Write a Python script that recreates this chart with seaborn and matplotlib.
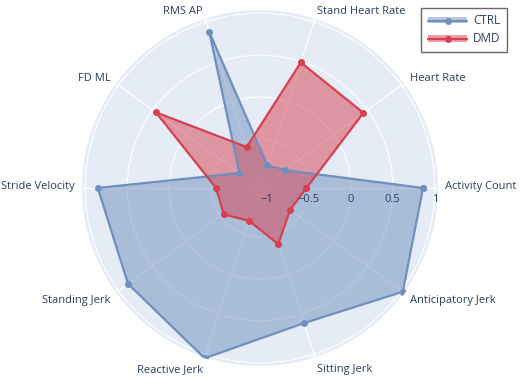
import numpy as np
import pandas as pd
import seaborn as sns
import matplotlib.pyplot as plt
from matplotlib.lines import Line2D
from matplotlib.patches import Patch
from matplotlib.legend_handler import HandlerTuple

categorias = ['Activity Count', 'Heart Rate', 'Stand Heart Rate', 'RMS AP', 'FD ML',
              'Stride Velocity', 'Standing Jerk', 'Reactive Jerk', 'Sitting Jerk',
              'Anticipatory Jerk']
ctrl = [0.86, -0.72, -0.80, 0.87, -0.78, 0.85, 0.86, 1.05, 0.61, 1.02]
dmd = [-0.53, 0.44, 0.49, -0.57, 0.45, -0.56, -0.55, -0.67, -0.38, -0.64]
radial_ticks = [-1, -0.5, 0, 0.5, 1]
grupos = ['CTRL', 'DMD']
colores = {'CTRL': '#6f90be', 'DMD': '#d6404f'}

sns.set_style('white')
plt.rcParams['font.family'] = ['Open Sans', 'DejaVu Sans']
texto = '#2a3f5f'
fs = 8.0

n = len(categorias)
theta = np.arange(n) * 2 * np.pi / n

# DataFrame largo, cerrando el poligono con el primer punto
filas = []
for g, vals in zip(grupos, [ctrl, dmd]):
    for t, v in zip(list(theta) + [2 * np.pi], vals + [vals[0]]):
        filas.append({'grupo': g, 'theta': t, 'valor': v})
df = pd.DataFrame(filas)

fig = plt.figure(figsize=(5.2, 3.78), dpi=100)
ax = fig.add_axes([81 / 520, 11 / 378, 358 / 520, 358 / 378], projection='polar')
ax.set_facecolor('#E5ECF6')
ax.set_ylim(-1.083, 1.05)

for g in grupos:
    d = df[df['grupo'] == g]
    ax.fill(d['theta'], d['valor'], color=colores[g], alpha=0.5, lw=0, zorder=2)
sns.lineplot(data=df, x='theta', y='valor', hue='grupo', palette=colores, sort=False,
             estimator=None, marker='o', markersize=5, markeredgewidth=0, linewidth=1.6,
             legend=False, ax=ax, zorder=3)

ax.set_xticks(theta)
ax.set_xticklabels([])
ax.set_yticks(radial_ticks)
ax.set_yticklabels([])
ax.set_xlabel('')
ax.set_ylabel('')
ax.grid(color='white', linewidth=0.8)
ax.spines['polar'].set_color('white')
ax.spines['polar'].set_linewidth(1.5)
ax.tick_params(length=0)

# Etiquetas angulares al estilo plotly
for t, lab in zip(theta, categorias):
    c, s = np.cos(t), np.sin(t)
    ha = 'center' if abs(c) < 0.01 else ('left' if c > 0 else 'right')
    dy = 6 * s + (6 * s if s < 0 else 1)
    ax.annotate(lab, xy=(t, 1.05), xytext=(6 * c * 0.72, dy * 0.72), textcoords='offset points',
                ha=ha, va='center', fontsize=fs, color=texto, annotation_clip=False)

# Etiquetas radiales debajo del eje
for r in radial_ticks:
    ax.annotate(f'{r:g}'.replace('-', '\u2212'), xy=(0, r), xytext=(0, -8), textcoords='offset points',
                ha='center', va='center', fontsize=fs, color=texto, annotation_clip=False, zorder=5)

handles = [(Patch(facecolor=colores[g], alpha=0.5, lw=0),
            Line2D([], [], color=colores[g], lw=1.6, marker='o', markersize=5, markeredgewidth=0))
           for g in grupos]
leg = fig.legend(handles, grupos, handler_map={tuple: HandlerTuple(ndivide=1)},
                 loc='upper right', bbox_to_anchor=(513 / 520, 1 - 2 / 378), fontsize=8.4,
                 frameon=True, fancybox=False, handlelength=3.4, handleheight=0.5,
                 borderpad=0.55, labelspacing=0.45, handletextpad=0.5)
leg.get_frame().set_edgecolor('#444444')
leg.get_frame().set_linewidth(1)
for t in leg.get_texts():
    t.set_color(texto)

fig.savefig('out.png', dpi=100)
